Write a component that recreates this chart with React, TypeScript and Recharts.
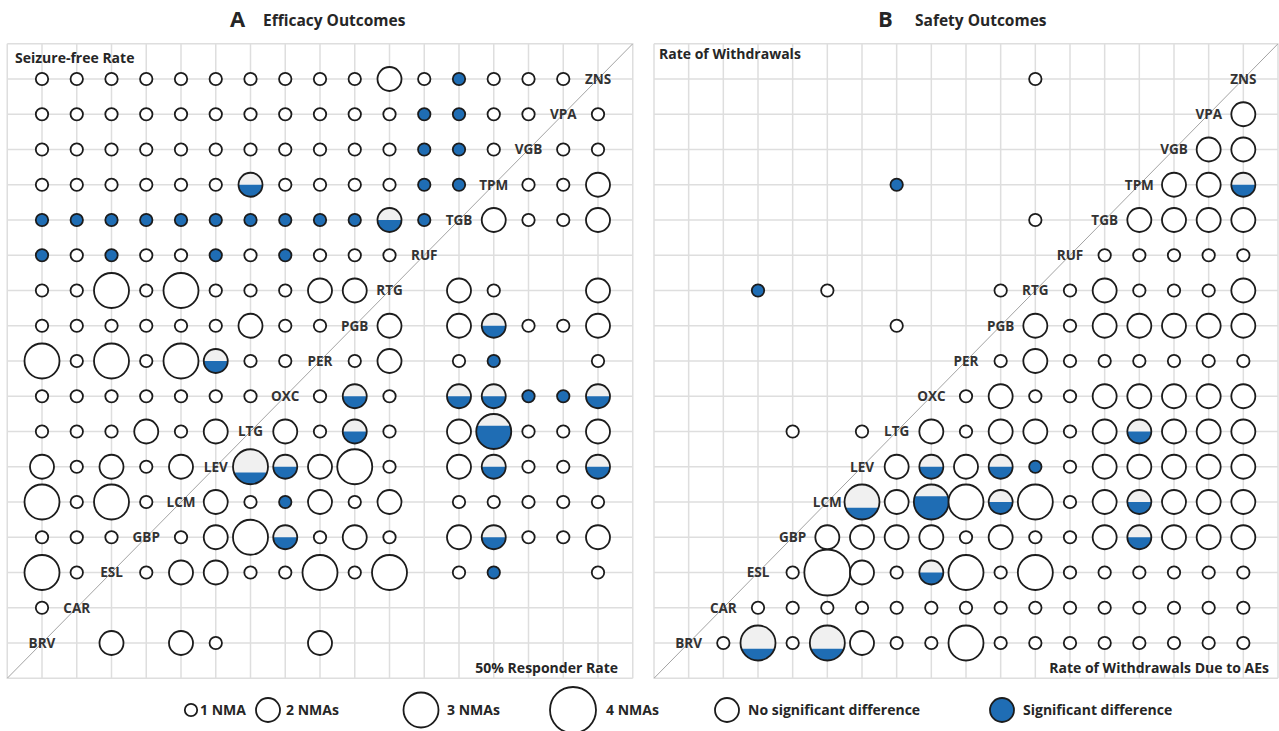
import React from "react";
import { ScatterChart, Scatter, XAxis, YAxis, CartesianGrid, ReferenceLine } from "recharts";

const drugs = ["BRV", "CAR", "ESL", "GBP", "LCM", "LEV", "LTG", "OXC", "PER", "PGB", "RTG", "RUF", "TGB", "TPM", "VGB", "VPA", "ZNS"];

// number of NMAs per comparison; rows BRV..ZNS (bottom to top), columns BRV..ZNS (left to right)
const efficacyNma = [
  [0, 0, 2, 0, 2, 1, 0, 0, 2, 0, 0, 0, 0, 0, 0, 0, 0],
  [1, 0, 0, 0, 0, 0, 0, 0, 0, 0, 0, 0, 0, 0, 0, 0, 0],
  [3, 1, 0, 1, 2, 2, 1, 1, 3, 1, 3, 0, 1, 1, 0, 0, 1],
  [1, 1, 1, 0, 1, 2, 3, 2, 1, 2, 1, 0, 2, 2, 1, 1, 2],
  [3, 1, 3, 1, 0, 2, 1, 1, 2, 1, 2, 0, 1, 1, 1, 1, 1],
  [2, 1, 2, 1, 2, 0, 3, 2, 2, 3, 1, 0, 2, 2, 1, 1, 2],
  [1, 1, 1, 2, 1, 2, 0, 2, 1, 2, 1, 0, 2, 3, 1, 1, 2],
  [1, 1, 1, 1, 1, 1, 1, 0, 1, 2, 1, 0, 2, 2, 1, 1, 2],
  [3, 1, 3, 1, 3, 2, 1, 1, 0, 1, 2, 0, 1, 1, 0, 0, 1],
  [1, 1, 1, 1, 1, 1, 2, 1, 1, 0, 2, 0, 2, 2, 1, 1, 2],
  [1, 1, 3, 1, 3, 1, 1, 1, 2, 2, 0, 0, 2, 1, 0, 0, 2],
  [1, 1, 1, 1, 1, 1, 1, 1, 1, 1, 1, 0, 0, 0, 0, 0, 0],
  [1, 1, 1, 1, 1, 1, 1, 1, 1, 1, 2, 1, 0, 2, 1, 1, 2],
  [1, 1, 1, 1, 1, 1, 2, 1, 1, 1, 1, 1, 1, 0, 1, 1, 2],
  [1, 1, 1, 1, 1, 1, 1, 1, 1, 1, 1, 1, 1, 1, 0, 1, 1],
  [1, 1, 1, 1, 1, 1, 1, 1, 1, 1, 1, 1, 1, 1, 1, 0, 1],
  [1, 1, 1, 1, 1, 1, 1, 1, 1, 1, 2, 1, 1, 1, 1, 1, 0],
];

// [row drug, column drug, NMAs showing a significant difference]
const efficacySig: [string, string, number][] = [
  ["ESL", "TPM", 1],
  ["GBP", "OXC", 1], ["GBP", "TPM", 1],
  ["LCM", "OXC", 1],
  ["LEV", "LTG", 1], ["LEV", "OXC", 1], ["LEV", "TPM", 1], ["LEV", "ZNS", 1],
  ["LTG", "PGB", 1], ["LTG", "TPM", 2],
  ["OXC", "PGB", 1], ["OXC", "TGB", 1], ["OXC", "TPM", 1], ["OXC", "VGB", 1], ["OXC", "VPA", 1], ["OXC", "ZNS", 1],
  ["PER", "LEV", 1], ["PER", "TPM", 1],
  ["PGB", "TPM", 1],
  ["RUF", "BRV", 1], ["RUF", "ESL", 1], ["RUF", "LEV", 1], ["RUF", "OXC", 1],
  ["TGB", "BRV", 1], ["TGB", "CAR", 1], ["TGB", "ESL", 1], ["TGB", "GBP", 1], ["TGB", "LCM", 1],
  ["TGB", "LEV", 1], ["TGB", "LTG", 1], ["TGB", "OXC", 1], ["TGB", "PER", 1], ["TGB", "PGB", 1],
  ["TGB", "RTG", 1], ["TGB", "RUF", 1],
  ["TPM", "LTG", 1], ["TPM", "RUF", 1], ["TPM", "TGB", 1],
  ["VGB", "RUF", 1], ["VGB", "TGB", 1],
  ["VPA", "RUF", 1], ["VPA", "TGB", 1],
  ["ZNS", "TGB", 1],
];

const safetyNma = [
  [0, 1, 3, 1, 3, 2, 1, 1, 3, 1, 1, 1, 1, 1, 1, 1, 1],
  [0, 0, 1, 1, 1, 1, 1, 1, 1, 1, 1, 1, 1, 1, 1, 1, 1],
  [0, 0, 0, 1, 4, 2, 1, 2, 3, 1, 3, 1, 1, 1, 1, 1, 1],
  [0, 0, 0, 0, 2, 2, 2, 2, 1, 2, 1, 1, 2, 2, 2, 2, 2],
  [0, 0, 0, 0, 0, 3, 2, 3, 3, 2, 3, 1, 2, 2, 2, 2, 2],
  [0, 0, 0, 0, 0, 0, 2, 2, 2, 2, 1, 1, 2, 2, 2, 2, 2],
  [0, 0, 0, 1, 0, 1, 0, 2, 1, 2, 2, 1, 2, 2, 2, 2, 2],
  [0, 0, 0, 0, 0, 0, 0, 0, 1, 2, 1, 1, 2, 2, 2, 2, 2],
  [0, 0, 0, 0, 0, 0, 0, 0, 0, 1, 2, 1, 1, 1, 1, 1, 1],
  [0, 0, 0, 0, 0, 0, 1, 0, 0, 0, 2, 1, 2, 2, 2, 2, 2],
  [0, 0, 1, 0, 1, 0, 0, 0, 0, 1, 0, 1, 2, 1, 1, 1, 2],
  [0, 0, 0, 0, 0, 0, 0, 0, 0, 0, 0, 0, 1, 1, 1, 1, 1],
  [0, 0, 0, 0, 0, 0, 0, 0, 0, 0, 1, 0, 0, 2, 2, 2, 2],
  [0, 0, 0, 0, 0, 0, 1, 0, 0, 0, 0, 0, 0, 0, 2, 2, 2],
  [0, 0, 0, 0, 0, 0, 0, 0, 0, 0, 0, 0, 0, 0, 0, 2, 2],
  [0, 0, 0, 0, 0, 0, 0, 0, 0, 0, 0, 0, 0, 0, 0, 0, 2],
  [0, 0, 0, 0, 0, 0, 0, 0, 0, 0, 1, 0, 0, 0, 0, 0, 0],
];

const safetySig: [string, string, number][] = [
  ["BRV", "ESL", 1], ["BRV", "LCM", 1],
  ["ESL", "OXC", 1],
  ["GBP", "TPM", 1],
  ["LCM", "LEV", 1], ["LCM", "OXC", 2], ["LCM", "PGB", 1], ["LCM", "TPM", 1],
  ["LEV", "OXC", 1], ["LEV", "PGB", 1], ["LEV", "RTG", 1],
  ["LTG", "TPM", 1],
  ["RTG", "ESL", 1],
  ["TPM", "LTG", 1], ["TPM", "ZNS", 1],
];

const gridTicks = [-1, ...drugs.map((_, i) => i), 17];

const BLUE = "#1f6db4";
const INK = "#1c1c1c";
const radius = [0, 6.2, 12, 17.5, 23];
const FONT = "'Open Sans', 'DejaVu Sans', sans-serif";

const buildPoints = (nma: number[][], sig: [string, string, number][]) => {
  const pts: { x: number; y: number; n: number; k: number }[] = [];
  nma.forEach((row, r) =>
    row.forEach((n, c) => {
      if (!n) return;
      const hit = sig.find((s) => s[0] === drugs[r] && s[1] === drugs[c]);
      pts.push({ x: c, y: r, n, k: hit ? hit[2] : 0 });
    })
  );
  return pts;
};

const Bubble = (props: any) => {
  const { cx, cy, payload } = props;
  const r = radius[payload.n];
  const f = payload.k / payload.n;
  if (f === 0) return <circle cx={cx} cy={cy} r={r} fill="#fff" stroke={INK} strokeWidth={1.8} />;
  if (f >= 1) return <circle cx={cx} cy={cy} r={r} fill={BLUE} stroke={INK} strokeWidth={1.8} />;
  const yc = cy + r - 2 * r * f;
  const dy = yc - cy;
  const w = Math.sqrt(r * r - dy * dy);
  return (
    <g>
      <circle cx={cx} cy={cy} r={r} fill="#f0f0f0" />
      <path d={`M${cx - w},${yc} A${r},${r} 0 ${f > 0.5 ? 1 : 0} 0 ${cx + w},${yc} Z`} fill={BLUE} />
      <circle cx={cx} cy={cy} r={r} fill="none" stroke={INK} strokeWidth={1.8} />
    </g>
  );
};

const DrugLabel = (props: any) => (
  <text x={props.cx} y={props.cy} dy={4.8} textAnchor="middle" fontFamily={FONT} fontWeight={700} fontSize={13.5} fill="#333">
    {props.payload.name}
  </text>
);

interface PanelProps {
  nma: number[][];
  sig: [string, string, number][];
  left: number;
  width: number;
  ml: number;
  mr: number;
}

const Panel = ({ nma, sig, left, width, ml, mr }: PanelProps) => {
  const points = buildPoints(nma, sig);
  const labels = drugs.map((name, i) => ({ x: i, y: i, name }));
  return (
    <div style={{ position: "absolute", left, top: 0 }}>
      <ScatterChart width={width} height={731} margin={{ top: 43.75, right: mr, bottom: 52.75, left: ml }}>
        <CartesianGrid stroke="#dedede" strokeWidth={1.5} />
        <XAxis type="number" dataKey="x" domain={[-1, 17]} ticks={gridTicks} hide />
        <YAxis type="number" dataKey="y" domain={[-1, 17]} ticks={gridTicks} hide />
        <ReferenceLine segment={[{ x: -1, y: -1 }, { x: 17, y: 17 }]} stroke="#a3a3a3" strokeWidth={1} />
        <Scatter data={points} shape={Bubble} isAnimationActive={false} />
        <Scatter data={labels} shape={DrugLabel} isAnimationActive={false} />
      </ScatterChart>
    </div>
  );
};

const legendItems = [
  { cx: 191, r: radius[1], fill: "#fff", label: "1 NMA", tx: 200 },
  { cx: 268, r: radius[2], fill: "#fff", label: "2 NMAs", tx: 286 },
  { cx: 421, r: radius[3], fill: "#fff", label: "3 NMAs", tx: 447 },
  { cx: 573, r: radius[4], fill: "#fff", label: "4 NMAs", tx: 606 },
  { cx: 727, r: radius[2], fill: "#fff", label: "No significant difference", tx: 748 },
  { cx: 1002, r: radius[2], fill: BLUE, label: "Significant difference", tx: 1023 },
];

const textStyle = { fontFamily: FONT, fontWeight: 700, fill: "#262626" } as const;

export default function App() {
  return (
    <div style={{ position: "absolute", left: 0, top: 0, width: 1279, height: 731, background: "#fff" }}>
      <Panel nma={efficacyNma} sig={efficacySig} left={0} width={640} ml={7.25} mr={7.25} />
      <Panel nma={safetyNma} sig={safetySig} left={640} width={639} ml={14} mr={1} />
      <svg width={1279} height={731} style={{ position: "absolute", left: 0, top: 0, pointerEvents: "none" }}>
        <text x={230} y={27} fontSize={22} {...textStyle}>A</text>
        <text x={263} y={26} fontSize={15.5} {...textStyle}>Efficacy Outcomes</text>
        <text x={878} y={27} fontSize={22} {...textStyle}>B</text>
        <text x={915} y={26} fontSize={15.5} {...textStyle}>Safety Outcomes</text>

        <text x={15} y={63} fontSize={14} {...textStyle}>Seizure-free Rate</text>
        <text x={618} y={673} fontSize={14} textAnchor="end" {...textStyle}>50% Responder Rate</text>
        <text x={659} y={59} fontSize={14} {...textStyle}>Rate of Withdrawals</text>
        <text x={1269} y={673} fontSize={14} textAnchor="end" {...textStyle}>Rate of Withdrawals Due to AEs</text>

        {legendItems.map((it) => (
          <g key={it.label}>
            <circle cx={it.cx} cy={710} r={it.r} fill={it.fill} stroke={INK} strokeWidth={1.8} />
            <text x={it.tx} y={715} fontSize={14} {...textStyle}>{it.label}</text>
          </g>
        ))}
      </svg>
    </div>
  );
}
